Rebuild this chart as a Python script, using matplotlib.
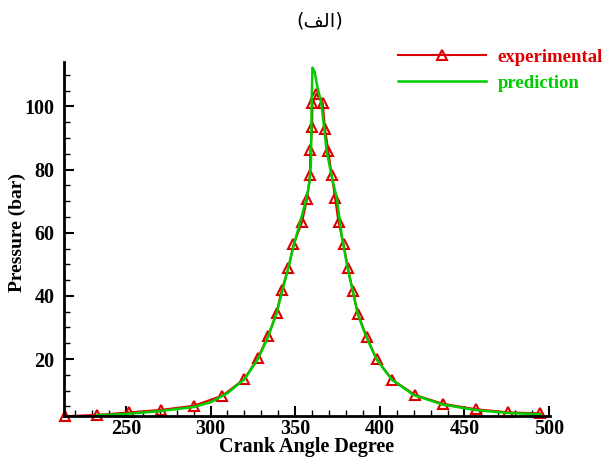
import matplotlib
matplotlib.use("Agg")
import matplotlib.pyplot as plt
from matplotlib.ticker import MultipleLocator

exp_angle = [214, 233, 252, 271, 290, 307, 320, 328, 334, 339, 342, 346, 349,
             354, 357, 358.7, 359, 360, 360.2, 362.5, 366.3, 367.6, 369.6,
             371.6, 373.6, 375.6, 378.6, 381.2, 384, 387.1, 392.2, 398.1,
             407.5, 420.9, 437.4, 456.9, 475.9, 494.8]
exp_pressure = [1.9, 2.3, 3.1, 3.9, 5.2, 8.4, 13.7, 20.4, 27.4, 34.5, 41.8,
                48.9, 56.3, 63.3, 70.6, 78.2, 86.1, 93.5, 101.0, 104.0, 101.0,
                93.0, 85.8, 78.2, 70.9, 63.4, 56.4, 48.7, 41.6, 34.2, 27.1,
                19.9, 13.4, 8.6, 5.8, 4.1, 3.1, 2.8]

# кривая модели
pred_angle = [233, 250, 270, 290, 300, 310, 320, 328, 334, 339, 342.5, 346,
              349.3, 353, 356.5, 358.5, 359.3, 359.5, 359.7, 360.2, 361.5,
              363, 365.5, 368.6, 371.5, 374.6, 377.6, 381, 384, 387, 392,
              398, 407, 420, 437, 457, 476, 495]
pred_pressure = [2.2, 2.6, 3.5, 4.8, 6.3, 9.2, 13.6, 20.0, 27.0, 34.5, 41.8,
                 49.0, 56.3, 63.5, 70.5, 76.0, 82.0, 90.0, 100.0, 112.3, 111.0,
                 106.5, 100.9, 86.0, 78.0, 70.9, 58.7, 48.7, 41.6, 34.2, 27.0,
                 20.0, 13.5, 8.6, 5.6, 3.8, 2.9, 2.5]

x_ticks = [250, 300, 350, 400, 450, 500]
y_ticks = [20, 40, 60, 80, 100]

RED = '#dd0000'
GREEN = '#00cc00'
serif_bold = {'family': 'Liberation Serif', 'weight': 'bold'}

fig = plt.figure(figsize=(6.11, 4.58), dpi=100)
ax = fig.add_axes([0.105, 0.092, 0.795, 0.772])

ax.plot(exp_angle, exp_pressure, color=RED, lw=1.5, marker='^', ms=7,
        mfc='none', mec=RED, mew=1.5, clip_on=False, label='experimental')
ax.plot(pred_angle, pred_pressure, color=GREEN, lw=1.8, label='prediction')

ax.set_xlim(213.5, 500.5)
ax.set_ylim(2, 114)
ax.set_xticks(x_ticks)
ax.set_yticks(y_ticks)
ax.xaxis.set_minor_locator(MultipleLocator(10))
ax.yaxis.set_minor_locator(MultipleLocator(5))

for s in ['top', 'right']:
    ax.spines[s].set_visible(False)
for s in ['left', 'bottom']:
    ax.spines[s].set_linewidth(2)
ax.tick_params(which='major', direction='in', length=7, width=1.5)
ax.tick_params(axis='x', which='major', pad=2)
ax.tick_params(axis='y', which='major', pad=7)
ax.tick_params(which='minor', direction='in', length=4, width=1)

for lbl in ax.get_xticklabels() + ax.get_yticklabels():
    lbl.set_fontfamily('Liberation Serif')
    lbl.set_fontweight('bold')
    lbl.set_fontsize(14.5)

ax.set_xlabel('Crank Angle Degree', fontsize=14.5, labelpad=-1, **serif_bold)
ax.set_ylabel('Pressure (bar)', fontsize=14, **serif_bold)
ax.yaxis.set_label_coords(-0.078, 0.52)

leg = ax.legend(loc='upper left', bbox_to_anchor=(0.623, 0.93),
                bbox_transform=fig.transFigure, frameon=False,
                handlelength=4.7, handletextpad=0.65, labelspacing=0.45,
                prop={'family': 'Liberation Serif', 'weight': 'bold', 'size': 13.5},
                labelcolor='linecolor')

# заголовок (الف) – формы букв заданы вручную, matplotlib не делает shaping
fig.text(0.523, 0.955, '(\uFED2\uFEDF\uFE8D)', ha='center', va='center',
         fontsize=14, family='DejaVu Sans')

fig.savefig('out.png', dpi=100)
